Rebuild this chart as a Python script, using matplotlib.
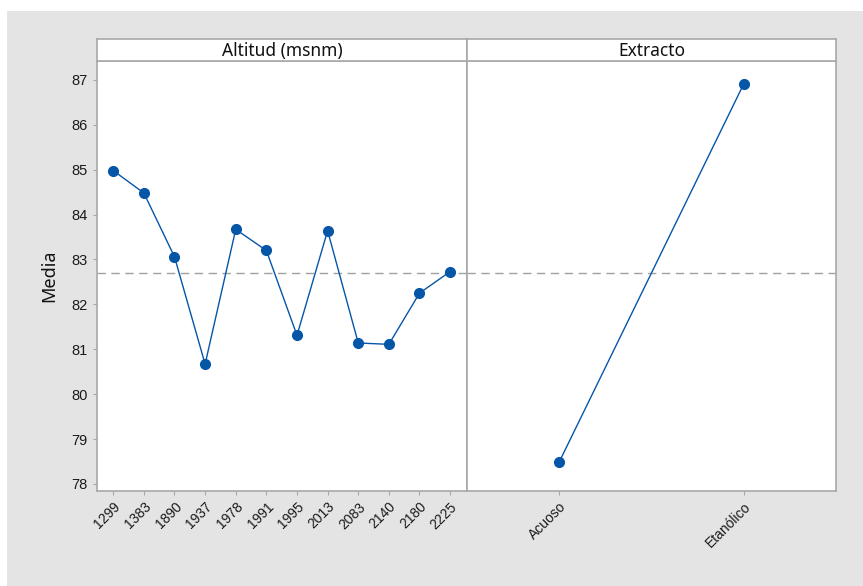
import matplotlib.pyplot as plt
from matplotlib.patches import Rectangle

# Main effects for Media
altitudes = ['1299', '1383', '1890', '1937', '1978', '1991', '1995', '2013',
             '2083', '2140', '2180', '2225']
altitude_means = [84.98, 84.48, 83.06, 80.67, 83.67, 83.20, 81.31, 83.64,
                  81.14, 81.11, 82.25, 82.73]
extracts = ['Acuoso', 'Etanólico']
extract_means = [78.49, 86.91]
grand_mean = 82.70
y_ticks = [78, 79, 80, 81, 82, 83, 84, 85, 86, 87]

LINE_COLOR = '#0656a8'
FRAME_COLOR = '#a8a8a8'
BG_COLOR = '#e4e4e4'
TICK_FONT = 'Liberation Sans'
TITLE_FONT = 'Noto Sans'

fig = plt.figure(figsize=(8.63, 5.86), dpi=100)
fig.patch.set_facecolor('white')
fig.patches.append(Rectangle((7 / 863, 0), 1, 1 - 11 / 586, transform=fig.transFigure,
                             facecolor=BG_COLOR, edgecolor='none', zorder=-10))

bottom, height = 0.1626, 0.7333
strip_h = 0.0375
ax_left = fig.add_axes([0.1124, bottom, 0.4287, height])
ax_right = fig.add_axes([0.5411, bottom, 0.4276, height], sharey=ax_left)


def draw_panel(ax, labels, values, title, xlim):
    xs = range(len(labels))
    ax.axhline(grand_mean, color='#a0a0a0', lw=1.0, ls=(0, (6, 4)), zorder=1)
    ax.plot(xs, values, color=LINE_COLOR, lw=1.0, marker='o', ms=7,
            mfc=LINE_COLOR, mec=LINE_COLOR, zorder=3)
    ax.set_xlim(*xlim)
    ax.set_xticks(list(xs))
    ax.set_xticklabels(labels, rotation=45, ha='right', rotation_mode='anchor',
                       fontsize=10, family=TICK_FONT, color='#1a1a1a')
    ax.set_facecolor('white')
    for spine in ax.spines.values():
        spine.set_color(FRAME_COLOR)
        spine.set_linewidth(1.2)
    ax.tick_params(axis='both', colors=FRAME_COLOR, length=3, width=0.8,
                   labelcolor='#1a1a1a')
    # strip with the factor name above the panel
    pos = ax.get_position()
    strip = fig.add_axes([pos.x0, pos.y1, pos.width, strip_h])
    strip.set_xticks([])
    strip.set_yticks([])
    strip.set_facecolor('white')
    for spine in strip.spines.values():
        spine.set_color(FRAME_COLOR)
        spine.set_linewidth(1.2)
    strip.text(0.5, 0.45, title, ha='center', va='center', fontsize=12.5,
               family=TITLE_FONT, color='#111111', transform=strip.transAxes)


draw_panel(ax_left, altitudes, altitude_means, 'Altitud (msnm)', (-0.53, 11.55))
draw_panel(ax_right, extracts, extract_means, 'Extracto', (-0.5, 1.5))

ax_left.set_ylim(77.85, 87.42)
ax_left.set_yticks(y_ticks)
for lbl in ax_left.get_yticklabels():
    lbl.set_family(TICK_FONT)
    lbl.set_fontsize(10.5)
ax_left.set_ylabel('Media', fontsize=13, family=TITLE_FONT, color='#111111')
ax_left.yaxis.set_label_coords(-0.106, 0.5)
ax_right.tick_params(axis='y', left=False, labelleft=False)

fig.savefig('out.png', dpi=100)
